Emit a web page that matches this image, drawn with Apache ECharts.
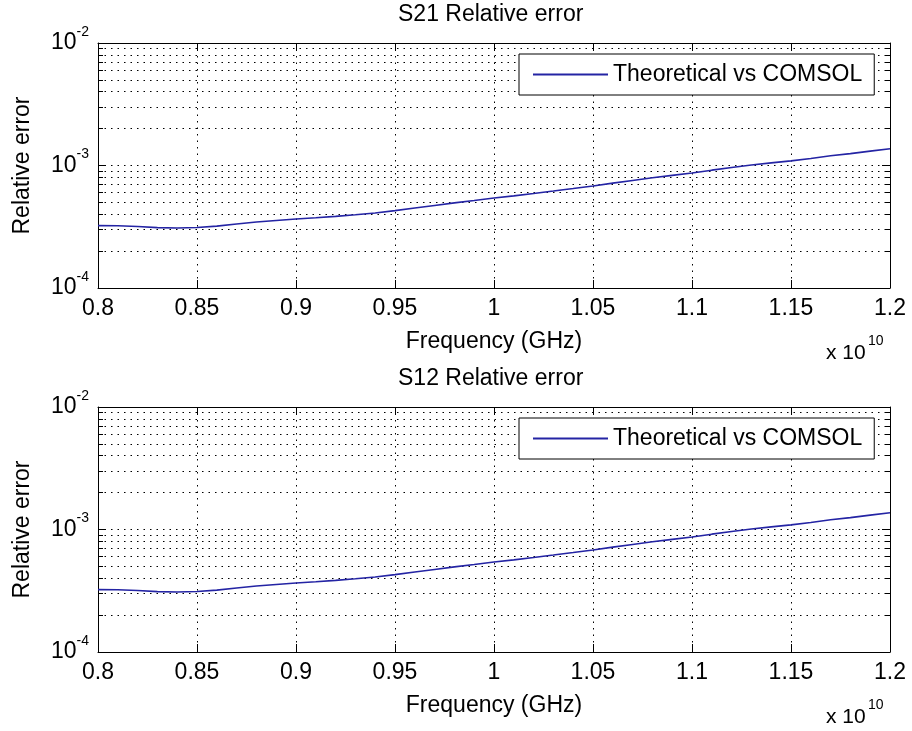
<!DOCTYPE html>
<html><head><meta charset="utf-8">
<script src="https://cdn.jsdelivr.net/npm/echarts@6/dist/echarts.min.js"></script>
<style>html,body{margin:0;padding:0;background:#fff}#c{width:912px;height:731px}</style>
</head><body><div id="c"></div>
<script>
// Frequency samples (units of 10^10 Hz)
const freq = [0.80,0.81,0.82,0.83,0.84,0.85,0.86,0.87,0.88,0.89,0.90,0.91,0.92,0.93,0.94,0.95,0.96,0.97,0.98,0.99,1.00,
              1.01,1.02,1.03,1.04,1.05,1.06,1.07,1.08,1.09,1.10,1.11,1.12,1.13,1.14,1.15,1.16,1.17,1.18,1.19,1.20];
// S21 relative error (Theoretical vs COMSOL)
const s21Err = [3.23e-4,3.22e-4,3.18e-4,3.11e-4,3.09e-4,3.12e-4,3.20e-4,3.33e-4,3.46e-4,3.56e-4,3.66e-4,
                3.74e-4,3.84e-4,3.96e-4,4.10e-4,4.28e-4,4.50e-4,4.72e-4,4.95e-4,5.18e-4,5.43e-4,
                5.65e-4,5.91e-4,6.19e-4,6.49e-4,6.81e-4,7.18e-4,7.55e-4,7.94e-4,8.30e-4,8.69e-4,
                9.16e-4,9.62e-4,1.01e-3,1.05e-3,1.09e-3,1.14e-3,1.20e-3,1.25e-3,1.31e-3,1.37e-3];
// S12 relative error (Theoretical vs COMSOL)
const s12Err = [3.23e-4,3.22e-4,3.18e-4,3.11e-4,3.09e-4,3.12e-4,3.20e-4,3.33e-4,3.46e-4,3.56e-4,3.66e-4,
                3.74e-4,3.84e-4,3.96e-4,4.10e-4,4.28e-4,4.50e-4,4.72e-4,4.95e-4,5.18e-4,5.43e-4,
                5.65e-4,5.91e-4,6.19e-4,6.49e-4,6.81e-4,7.18e-4,7.55e-4,7.94e-4,8.30e-4,8.69e-4,
                9.16e-4,9.62e-4,1.01e-3,1.05e-3,1.09e-3,1.14e-3,1.20e-3,1.25e-3,1.31e-3,1.37e-3];
const titles = ['S21 Relative error', 'S12 Relative error'];
const seriesName = 'Theoretical vs COMSOL';
const xLabel = 'Frequency (GHz)';
const yLabel = 'Relative error';
const yMinorTicks = [2e-4,3e-4,4e-4,5e-4,6e-4,7e-4,8e-4,9e-4,2e-3,3e-3,4e-3,5e-3,6e-3,7e-3,8e-3,9e-3];

const FONT = 'Liberation Sans, Arial, Helvetica, sans-serif';
const BLACK = '#000';
const DOT = {color: '#000', width: 1, type: [1.5, 5]};
const panelTops = [43, 407];
const H = 245;

const chart = echarts.init(document.getElementById('c'), null, {renderer: 'canvas'});
const grid = [], xAxis = [], yAxis = [], series = [], legend = [], title = [], graphic = [];
const datasets = [s21Err, s12Err];

panelTops.forEach((top, i) => {
  grid.push({left: 98, top: top, width: 792, height: H, containLabel: false, show: false});
  const xBase = {type: 'value', gridIndex: i, min: 0.8, max: 1.2, interval: 0.05};
  xAxis.push(Object.assign({}, xBase, {
    position: 'bottom',
    axisLine: {show: true, onZero: false, lineStyle: {color: BLACK, width: 1}},
    axisTick: {show: true, inside: true, length: 8, lineStyle: {color: BLACK}},
    axisLabel: {color: BLACK, fontSize: 23, fontFamily: FONT, margin: 9},
    splitLine: {show: true, lineStyle: DOT},
    name: xLabel, nameLocation: 'middle', nameGap: 42, nameMoveOverlap: false,
    nameTextStyle: {color: BLACK, fontSize: 23, fontFamily: FONT}
  }));
  xAxis.push(Object.assign({}, xBase, {
    position: 'top',
    axisLine: {show: true, onZero: false, lineStyle: {color: BLACK, width: 1}},
    axisTick: {show: true, inside: true, length: 8, lineStyle: {color: BLACK}},
    axisLabel: {show: false},
    splitLine: {show: false}
  }));
  const yBase = {type: 'log', logBase: 10, gridIndex: i, min: 1e-4, max: 1e-2};
  const labelCfg = {
    show: true, margin: 9, color: BLACK,
    formatter: v => '{b|10}{s|' + Math.round(Math.log10(v)) + '}',
    rich: {
      b: {fontSize: 23, fontFamily: FONT, color: BLACK, lineHeight: 36, verticalAlign: 'middle'},
      s: {fontSize: 14, fontFamily: FONT, color: BLACK, lineHeight: 14, verticalAlign: 'top'}
    }
  };
  // left major
  yAxis.push(Object.assign({}, yBase, {
    position: 'left',
    axisLine: {show: true, onZero: false, lineStyle: {color: BLACK, width: 1}},
    axisTick: {show: true, inside: true, length: 8, lineStyle: {color: BLACK}},
    axisLabel: labelCfg,
    splitLine: {show: true, lineStyle: DOT},
    name: yLabel, nameLocation: 'middle', nameGap: 64, nameMoveOverlap: false,
    nameTextStyle: {color: BLACK, fontSize: 23, fontFamily: FONT}
  }));
  // left minor
  yAxis.push(Object.assign({}, yBase, {
    position: 'left',
    axisLine: {show: false},
    axisTick: {show: true, inside: true, length: 5, customValues: yMinorTicks, lineStyle: {color: BLACK}},
    axisLabel: {show: false},
    splitLine: {show: true, lineStyle: DOT}
  }));
  // right major
  yAxis.push(Object.assign({}, yBase, {
    position: 'right',
    axisLine: {show: true, onZero: false, lineStyle: {color: BLACK, width: 1}},
    axisTick: {show: true, inside: true, length: 8, lineStyle: {color: BLACK}},
    axisLabel: {show: false},
    splitLine: {show: false}
  }));
  // right minor
  yAxis.push(Object.assign({}, yBase, {
    position: 'right',
    axisLine: {show: false},
    axisTick: {show: true, inside: true, length: 5, customValues: yMinorTicks, lineStyle: {color: BLACK}},
    axisLabel: {show: false},
    splitLine: {show: false}
  }));
  series.push({
    name: seriesName, type: 'line', xAxisIndex: 2 * i, yAxisIndex: 4 * i,
    data: freq.map((f, k) => [f, datasets[i][k]]),
    symbol: 'none', showSymbol: false, smooth: false,
    lineStyle: {color: '#2424a4', width: 1.6}, itemStyle: {color: '#2424a4'},
    z: 3
  });
  legend.push({
    data: [seriesName], left: 519, top: top + 11, orient: 'horizontal',
    padding: [9, 12, 9, 14], itemWidth: 75, itemHeight: 2, icon: 'rect',
    backgroundColor: '#fff', borderColor: BLACK, borderWidth: 1, borderRadius: 0,
    selectedMode: false,
    textStyle: {fontSize: 23, fontFamily: FONT, color: BLACK}
  });
  title.push({
    text: titles[i], left: 398, top: top - 40, padding: 0,
    textStyle: {fontSize: 23, fontWeight: 'normal', color: BLACK, fontFamily: FONT}
  });
  graphic.push({type: 'text', left: 826, top: top + H + 55,
    style: {text: 'x 10', font: '21px ' + FONT, fill: BLACK}});
  graphic.push({type: 'text', left: 868, top: top + H + 46,
    style: {text: '10', font: '14px ' + FONT, fill: BLACK}});
});

chart.setOption({
  animation: false,
  backgroundColor: '#fff',
  textStyle: {fontFamily: FONT},
  grid, xAxis, yAxis, series, legend, title, graphic
});
</script></body></html>
